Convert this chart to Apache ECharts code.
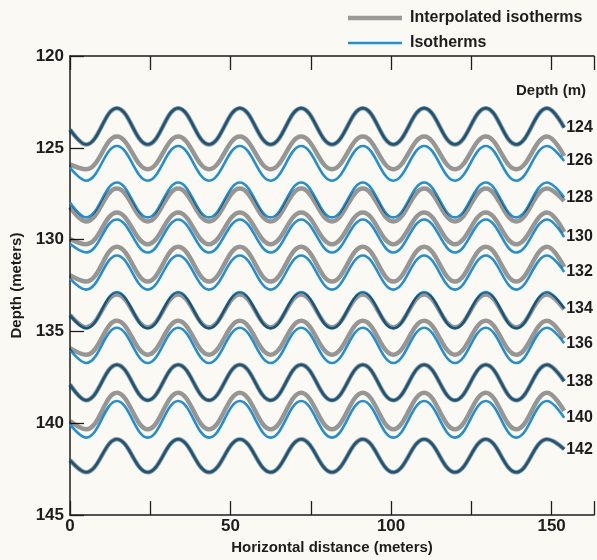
<!DOCTYPE html>
<html>
<head>
<meta charset="utf-8">
<script src="https://cdn.jsdelivr.net/npm/echarts@6/dist/echarts.min.js"></script>
<style>html,body{margin:0;padding:0;background:#fbf9f4;}#c{width:597px;height:560px;}</style>
</head>
<body>
<div id="c"></div>
<script>
// Horizontal positions (m) of start, alternating troughs/peaks, end
const xPos = [0, 5.0, 14.6, 24.2, 33.7, 43.3, 52.9, 62.5, 72.0, 81.6, 91.2, 100.7, 110.3, 119.9, 129.5, 139.0, 148.6, 153.9];

// Isotherms (blue), depth in m
const blue124 = [124.00,124.82,122.84,124.82,122.84,124.82,122.84,124.82,122.84,124.82,122.84,124.82,122.84,124.82,122.84,124.82,122.84,123.90];
const blue126 = [126.08,126.79,124.90,126.79,124.90,126.79,124.90,126.79,124.90,126.79,124.90,126.79,124.90,126.79,124.90,126.79,124.90,125.72];
const blue128 = [127.97,128.79,126.89,128.79,126.89,128.79,126.89,128.79,126.89,128.79,126.89,128.79,126.89,128.79,126.89,128.79,126.89,127.70];
const blue130 = [130.23,130.70,128.90,130.70,128.90,130.70,128.90,130.70,128.90,130.70,128.90,130.70,128.90,130.70,128.90,130.70,128.90,129.86];
const blue132 = [132.12,132.72,130.86,132.72,130.86,132.72,130.86,132.72,130.86,132.72,130.86,132.72,130.86,132.72,130.86,132.72,130.86,131.76];
const blue134 = [134.11,134.83,132.85,134.83,132.85,134.83,132.85,134.83,132.85,134.83,132.85,134.83,132.85,134.83,132.85,134.83,132.85,133.74];
const blue136 = [136.00,136.72,134.80,136.72,134.80,136.72,134.80,136.72,134.80,136.72,134.80,136.72,134.80,136.72,134.80,136.72,134.80,135.64];
const blue138 = [137.89,138.75,136.81,138.75,136.81,138.75,136.81,138.75,136.81,138.75,136.81,138.75,136.81,138.75,136.81,138.75,136.81,137.71];
const blue140 = [140.06,140.78,138.79,140.78,138.79,140.78,138.79,140.78,138.79,140.78,138.79,140.78,138.79,140.78,138.79,140.78,138.79,139.70];
const blue142 = [142.00,142.67,140.87,142.67,140.87,142.67,140.87,142.67,140.87,142.67,140.87,142.67,140.87,142.67,140.87,142.67,140.87,141.41];

// Interpolated isotherms (gray), depth in m
const gray124 = [124.00,124.82,122.84,124.82,122.84,124.82,122.84,124.82,122.84,124.82,122.84,124.82,122.84,124.82,122.84,124.82,122.84,123.90];
const gray126 = [125.90,126.17,124.38,126.17,124.38,126.17,124.38,126.17,124.38,126.17,124.38,126.17,124.38,126.17,124.38,126.17,124.38,125.45];
const gray128 = [128.24,129.01,127.22,129.01,127.22,129.01,127.22,129.01,127.22,129.01,127.22,129.01,127.22,129.01,127.22,129.01,127.22,127.90];
const gray130 = [129.96,130.25,128.52,130.25,128.52,130.25,128.52,130.25,128.52,130.25,128.52,130.25,128.52,130.25,128.52,130.25,128.52,129.59];
const gray132 = [131.94,132.28,130.39,132.28,130.39,132.28,130.39,132.28,130.39,132.28,130.39,132.28,130.39,132.28,130.39,132.28,130.39,131.49];
const gray134 = [134.10,134.77,132.99,134.77,132.99,134.77,132.99,134.77,132.99,134.77,132.99,134.77,132.99,134.77,132.99,134.77,132.99,133.80];
const gray136 = [135.91,136.27,134.42,136.27,134.42,136.27,134.42,136.27,134.42,136.27,134.42,136.27,134.42,136.27,134.42,136.27,134.42,135.37];
const gray138 = [137.89,138.75,136.81,138.75,136.81,138.75,136.81,138.75,136.81,138.75,136.81,138.75,136.81,138.75,136.81,138.75,136.81,137.71];
const gray140 = [139.88,140.33,138.34,140.33,138.34,140.33,138.34,140.33,138.34,140.33,138.34,140.33,138.34,140.33,138.34,140.33,138.34,139.33];
const gray142 = [142.00,142.67,140.87,142.67,140.87,142.67,140.87,142.67,140.87,142.67,140.87,142.67,140.87,142.67,140.87,142.67,140.87,141.41];

const depthLabels = ['124','126','128','130','132','134','136','138','140','142'];
const blueRows = [blue124, blue126, blue128, blue130, blue132, blue134, blue136, blue138, blue140, blue142];
const grayRows = [gray124, gray126, gray128, gray130, gray132, gray134, gray136, gray138, gray140, gray142];
const xTicks = [0, 50, 100, 150];
const yTicks = [120, 125, 130, 135, 140, 145];

const FONT = "'Liberation Sans', Arial, sans-serif";
const BLUE = '#1f8fd6';
const GRAY = '#9a9a9a';
const INK = '#1d1d1d';

function pts(arr) { return arr.map((d, i) => [xPos[i], d]); }

const series = [];
blueRows.forEach((row, i) => {
  series.push({
    name: 'Isotherms', type: 'line', data: pts(row), smooth: 0.4, symbol: 'none',
    lineStyle: { color: BLUE, width: 2.6 }, itemStyle: { color: BLUE },
    z: 2, silent: true,
    endLabel: { show: true, formatter: depthLabels[i], color: INK, fontFamily: FONT, fontWeight: 'bold', fontSize: 16, distance: 2 }
  });
});
grayRows.forEach((row) => {
  series.push({
    name: 'Interpolated isotherms', type: 'line', data: pts(row), smooth: 0.4, symbol: 'none',
    lineStyle: { color: GRAY, width: 4.5 }, itemStyle: { color: GRAY },
    z: 3, silent: true, blendMode: 'multiply'
  });
});

const chart = echarts.init(document.getElementById('c'), null, { renderer: 'canvas' });
chart.setOption({
  backgroundColor: '#fbf9f4',
  animation: false,
  textStyle: { fontFamily: FONT },
  legend: {
    orient: 'vertical', left: 348, top: 10, padding: 0, itemWidth: 54, itemHeight: 14, itemGap: 9,
    data: [
      { name: 'Interpolated isotherms', icon: 'path://M0,0H54V4.5H0Z', itemStyle: { color: GRAY } },
      { name: 'Isotherms', icon: 'path://M0,0H54V2.6H0Z', itemStyle: { color: BLUE } }
    ],
    textStyle: { color: INK, fontFamily: FONT, fontWeight: 'bold', fontSize: 16, padding: [0, 0, 0, 3] }
  },
  grid: { left: 70, right: 0, top: 56, bottom: 42 },
  xAxis: [{
    type: 'value', position: 'bottom', min: 0, max: 163.2, interval: 25,
    name: 'Horizontal distance (meters)', nameLocation: 'middle', nameGap: 24,
    nameTextStyle: { color: INK, fontFamily: FONT, fontWeight: 'bold', fontSize: 15 },
    axisLine: { show: true, lineStyle: { color: INK, width: 1.5 } },
    axisTick: { show: true, inside: true, length: 14, lineStyle: { color: INK, width: 1.3 } },
    axisLabel: { color: INK, fontFamily: FONT, fontWeight: 'bold', fontSize: 17, margin: 3,
      formatter: v => (xTicks.indexOf(v) >= 0 ? String(v) : '') },
    splitLine: { show: false }
  }, {
    type: 'value', position: 'top', min: 0, max: 163.2, interval: 25,
    axisLine: { show: true, lineStyle: { color: INK, width: 1.5 } },
    axisTick: { show: true, inside: true, length: 14, lineStyle: { color: INK, width: 1.3 } },
    axisLabel: { show: false }, splitLine: { show: false }
  }],
  yAxis: {
    type: 'value', inverse: true, min: 120, max: 145, interval: 5,
    name: 'Depth (meters)', nameLocation: 'middle', nameGap: 45,
    nameTextStyle: { color: INK, fontFamily: FONT, fontWeight: 'bold', fontSize: 15 },
    axisLine: { show: true, lineStyle: { color: INK, width: 1.5 } },
    axisTick: { show: true, inside: true, length: 14, lineStyle: { color: INK, width: 1.3 } },
    axisLabel: { color: INK, fontFamily: FONT, fontWeight: 'bold', fontSize: 17, margin: 6,
      formatter: v => (yTicks.indexOf(v) >= 0 ? String(v) : '') },
    splitLine: { show: false }
  },
  graphic: [{
    type: 'text', left: 516, top: 83,
    style: { text: 'Depth (m)', fill: INK, font: "bold 15px 'Liberation Sans', Arial, sans-serif" }
  }],
  series: series
});
</script>
</body>
</html>
